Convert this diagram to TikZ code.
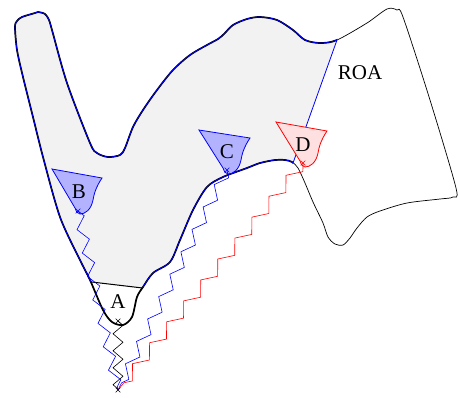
\documentclass[tikz,border=0pt]{standalone}
\usepackage{fontspec}
\setmainfont{Liberation Serif}
\usetikzlibrary{decorations.pathmorphing,shapes.misc}
\begin{document}
\begin{tikzpicture}[x=1pt,y=-1pt,
  thinroa/.style={line width=0.7pt},
  thickedge/.style={line width=1.7pt},
  cupshape/.style={line width=0.8pt},
  lbl/.style={font=\fontsize{21}{24}\selectfont, inner sep=0pt},
  xmark/.style={cross out, draw, minimum size=4pt, inner sep=0pt, line width=0.6pt},
  zz/.style={line width=0.6pt, decorate, decoration={zigzag, amplitude=#1}},
]
\useasboundingbox (0,0) rectangle (458,397);

\def\roapath{plot[smooth cycle, tension=0.5] coordinates {(15,27) (17,21) (22,17) (35,13) (38,12) (45,14) (49,20) (52,30) (67,83) (90,143) (97,153) (108,157) (120,155) (125,148) (133,127) (143,110) (157,90) (173,70) (190,55) (207,45) (218,39) (224,34) (233,25) (247,19) (260,17) (277,20) (293,30) (305,40) (320,43) (337,40) (367,23) (387,9) (397,10) (403,17) (430,100) (456,188) (453,197) (440,199) (407,203) (380,211) (367,217) (357,228) (350,238) (343,245) (335,244) (328,237) (323,223) (313,202) (305,183) (298,168) (292,162) (285,160) (275,160) (260,163) (247,168) (223,177) (207,187) (193,210) (180,240) (170,262) (153,273) (143,287) (137,297) (132,317) (123,325) (112,322) (103,310) (90,280) (80,260) (60,217) (43,157) (33,117) (23,77) (17,50)}}

% grey set
\begin{scope}
  \clip (0,0) -- (351.3,0) -- (270.5,226) -- (270,303) -- (0,271.2) -- cycle;
  \fill[gray!10] \roapath;
\end{scope}
% ROA outline
\draw[thinroa] \roapath;
% grey set boundary shared with ROA
\begin{scope}
  \clip (0,0) -- (351.3,0) -- (270.5,226) -- (270,303) -- (0,271.2) -- cycle;
  \draw[thickedge] \roapath;
  \draw[blue, line width=0.8pt] \roapath;
\end{scope}
% region A
\begin{scope}
  \clip (0,271.2) -- (270,303) -- (270,397) -- (0,397) -- cycle;
  \draw[thickedge] \roapath;
\end{scope}
\begin{scope}
  \clip \roapath;
  \draw[line width=1pt] (0,271.2) -- (270,303);
  \draw[blue, line width=0.8pt] (351.3,0) -- (270.5,226);
\end{scope}
\node[lbl] (ROA) at (360,73) {ROA};
\node[lbl] (A) at (118,302) {A};

% cups
\path[cupshape, draw=blue, fill=blue!30, shift={(52,169)}] (0,0) -- (50,9) .. controls (44,18) and (42,25) .. (41,31) .. controls (39,41) and (33,45) .. (28,45) .. controls (25,45) and (24,42) .. (23,39) -- cycle;
\path[cupshape, draw=blue, fill=blue!30, shift={(199,130)}] (0,0) -- (51,8) .. controls (45,17) and (43,24) .. (42,30) .. controls (40,40) and (34,44) .. (29,44) .. controls (26,44) and (25,41) .. (24,38) -- cycle;
\path[cupshape, draw=red, fill=red!12, shift={(276,122)}] (0,0) -- (51,9) .. controls (45,18) and (43,25) .. (42,31) .. controls (40,41) and (34,45) .. (29,45) .. controls (26,45) and (25,42) .. (24,39) -- cycle;
\node[lbl] (B) at (79,192) {B};
\node[lbl] (C) at (227,152) {C};
\node[lbl] (D) at (303,145) {D};

% connectors
\coordinate (xA) at (118,321);
\coordinate (xB) at (78,211);
\coordinate (xC) at (227,170);
\coordinate (xD) at (303,163);
\coordinate (E) at (118,390);
\draw[zz=5pt, decoration={segment length=17pt}] (xA) -- (E);
\draw[blue, zz=5pt, decoration={segment length=24pt}] (xB) -- (E);
\draw[blue, zz=5pt, decoration={segment length=25pt}] (xC) -- (E);
\draw[red, zz=5.4pt, decoration={segment length=27pt}] (xD) -- (E);

\node[xmark] at (xA) {};
\node[xmark, blue] at (xB) {};
\node[xmark, blue] at (xC) {};
\node[xmark, red] at (xD) {};
\node[xmark] at (E) {};
\end{tikzpicture}
\end{document}
